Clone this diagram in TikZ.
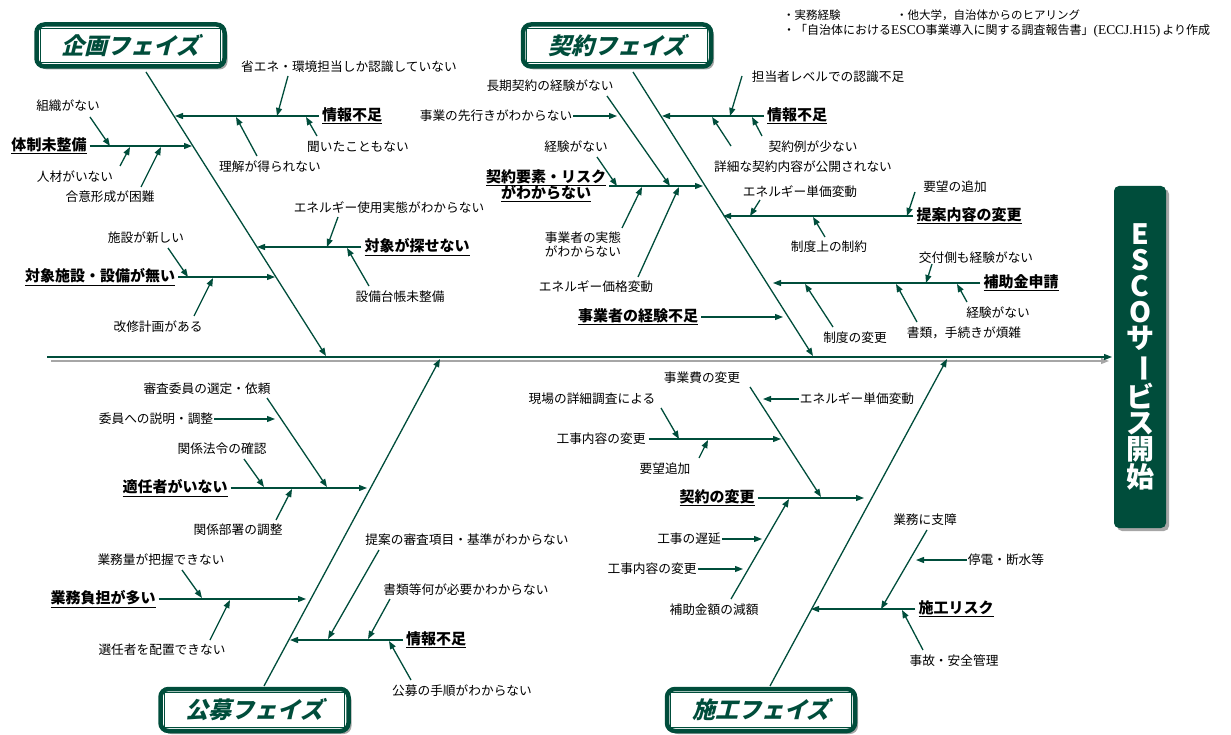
\documentclass[tikz,border=0pt]{standalone}
\usepackage{fontspec}
\usepackage{graphicx}
\setmainfont{Noto Sans CJK JP}
\newfontfamily\serifl{Liberation Serif}[Scale=1.12]
\newfontfamily\phasefont{Noto Sans CJK JP}[FakeSlant=0.25]
\usetikzlibrary{arrows.meta,shadows,calc}
\definecolor{G}{HTML}{004D3B}
\tikzset{
 ln/.style={draw=G,line width=1.3pt},
 arr/.style={ln,-{Triangle[length=8pt,width=6pt]}},
 lab/.style={font=\fontsize{12.7}{14}\selectfont,inner sep=1pt,align=center},
 blab/.style={font=\bfseries\fontsize{15}{17}\selectfont,inner sep=3pt,align=center},
 note/.style={font=\fontsize{12}{13}\selectfont,inner sep=0pt,anchor=west},
 phasebox/.style={draw=G,line width=4.5pt,fill=white,rounded corners=8pt,
   minimum width=188pt,minimum height=42pt,
   drop shadow={shadow xshift=3pt,shadow yshift=-3pt,fill=black!35,opacity=1},
   font=\phasefont\bfseries\fontsize{23}{24}\selectfont,text=G},
 innerframe/.style={draw=G,line width=1.2pt},
 escobox/.style={fill=G,rounded corners=5pt,minimum width=52pt,minimum height=342pt,
   drop shadow={shadow xshift=3pt,shadow yshift=-3pt,fill=black!35,opacity=1},
   text=white,font=\bfseries\fontsize{28}{26}\selectfont,align=center,inner sep=0pt},
}
\begin{document}
\begin{tikzpicture}[x=1pt,y=-1pt]
\useasboundingbox (0,0) rectangle (1231,735);
% ---------- ESCO box ----------
\node[escobox] (esco) at (1140,357) {E\\S\\C\\O\\サ\\\rotatebox[origin=c]{-90}{ー}\\ビ\\ス\\開\\始};
% ---------- spine ----------
\coordinate (sp0) at (47,357);
\coordinate (sp1) at (1112,357);
\coordinate (sg0) at (51,361);
\coordinate (sg1) at (1109,361);
\draw[draw=black!35,line width=1.3pt,-{Triangle[length=8pt,width=6pt]}] (sg0) -- (sg1);
\draw[arr] (sp0) -- (sp1);
% ---------- phase boxes ----------
\node[phasebox] (kikaku) at (130.5,45.5) {企画フェイズ};
\node[phasebox] (keiyaku) at (617,45.5) {契約フェイズ};
\node[phasebox] (koubo) at (254.5,710) {公募フェイズ};
\node[phasebox] (sekou) at (761,710) {施工フェイズ};
\foreach \b in {kikaku,keiyaku,koubo,sekou}{
  \draw[innerframe] ($(\b.south west)+(6,-6)$) rectangle ($(\b.north east)+(-6,6)$);
}
% ---------- notes ----------
\node[note,font=\fontsize{11.5}{13}\selectfont] (n1) at (783,15) {・実務経験};
\node[note,font=\fontsize{11.5}{13}\selectfont] (n2) at (896,15) {・他大学，自治体からのヒアリング};
\node[note] (n3) at (783,31) {・「自治体における{\serifl ESCO}事業導入に関する調査報告書」{\serifl (ECCJ.H15)}\,より作成};
% ---------- bones ----------
\coordinate (kb0) at (146,72);  \coordinate (kb1) at (326,356);
\coordinate (cb0) at (633,72);  \coordinate (cb1) at (813,356);
\coordinate (pb0) at (264,686); \coordinate (pb1) at (440,359);
\coordinate (sb0) at (770,686); \coordinate (sb1) at (947,359);
\draw[arr] (kb0) -- (kb1);
\draw[arr] (cb0) -- (cb1);
\draw[arr] (pb0) -- (pb1);
\draw[arr] (sb0) -- (sb1);

% ================= 企画フェイズ =================
\node[blab] (k1) at (352,116) {\underline{情報不足}};
\coordinate (k1t) at (175,116);
\draw[arr] (k1.west |- k1t) -- (k1t);
\node[lab] (k1s1) at (349,67) {省エネ・環境担当しか認識していない};
\coordinate (k1s1a) at (288,76); \coordinate (k1s1b) at (277,116);
\draw[arr] (k1s1a) -- (k1s1b);
\node[lab] (k1s2) at (358,147) {聞いたこともない};
\coordinate (k1s2a) at (317,136); \coordinate (k1s2b) at (306,117);
\draw[arr] (k1s2a) -- (k1s2b);
\node[lab] (k1s3) at (270,167) {理解が得られない};
\coordinate (k1s3a) at (257,156); \coordinate (k1s3b) at (236,117);
\draw[arr] (k1s3a) -- (k1s3b);

\node[blab] (k2) at (49,146) {\underline{体制未整備}};
\coordinate (k2t) at (192,146);
\draw[arr] (k2.east |- k2t) -- (k2t);
\node[lab] (k2s1) at (68,106) {組織がない};
\coordinate (k2s1a) at (90,117); \coordinate (k2s1b) at (110,146);
\draw[arr] (k2s1a) -- (k2s1b);
\node[lab] (k2s2) at (75,177) {人材がいない};
\coordinate (k2s2a) at (120,166); \coordinate (k2s2b) at (130,147);
\draw[arr] (k2s2a) -- (k2s2b);
\node[lab] (k2s3) at (110,197) {合意形成が困難};
\coordinate (k2s3a) at (141,187); \coordinate (k2s3b) at (161,147);
\draw[arr] (k2s3a) -- (k2s3b);

\node[blab] (k3) at (417,247) {\underline{対象が探せない}};
\coordinate (k3t) at (257,247);
\draw[arr] (k3.west |- k3t) -- (k3t);
\node[lab] (k3s1) at (389,208) {エネルギー使用実態がわからない};
\coordinate (k3s1a) at (338,217); \coordinate (k3s1b) at (327,247);
\draw[arr] (k3s1a) -- (k3s1b);
\node[lab] (k3s2) at (400,297) {設備台帳未整備};
\coordinate (k3s2a) at (369,286); \coordinate (k3s2b) at (347,248);
\draw[arr] (k3s2a) -- (k3s2b);

\node[blab] (k4) at (100,277) {\underline{対象施設・設備が無い}};
\coordinate (k4t) at (275,277);
\draw[arr] (k4.east |- k4t) -- (k4t);
\node[lab] (k4s1) at (146,238) {施設が新しい};
\coordinate (k4s1a) at (168,248); \coordinate (k4s1b) at (188,277);
\draw[arr] (k4s1a) -- (k4s1b);
\node[lab] (k4s2) at (158,327) {改修計画がある};
\coordinate (k4s2a) at (194,316); \coordinate (k4s2b) at (213,278);
\draw[arr] (k4s2a) -- (k4s2b);

% ================= 契約フェイズ =================
\node[blab] (c1) at (797,116) {\underline{情報不足}};
\coordinate (c1t) at (662,116);
\draw[arr] (c1.west |- c1t) -- (c1t);
\node[lab] (c1s1) at (828,77) {担当者レベルでの認識不足};
\coordinate (c1s1a) at (742,76); \coordinate (c1s1b) at (730,116);
\draw[arr] (c1s1a) -- (c1s1b);
\node[lab] (c1s2) at (813,147) {契約例が少ない};
\coordinate (c1s2a) at (762,136); \coordinate (c1s2b) at (752,117);
\draw[arr] (c1s2a) -- (c1s2b);
\node[lab] (c1s3) at (803,167) {詳細な契約内容が公開されない};
\coordinate (c1s3a) at (731,146); \coordinate (c1s3b) at (712,117);
\draw[arr] (c1s3a) -- (c1s3b);

\node[blab] (c2) at (546,186) {\underline{契約要素・リスク}\\[-1pt]\underline{がわからない}};
\coordinate (c2t) at (703,186);
\draw[arr] (c2.east |- c2t) -- (c2t);
\node[lab] (c2s1) at (550,86) {長期契約の経験がない};
\coordinate (c2s1a) at (607,96); \coordinate (c2s1b) at (670,186);
\draw[arr] (c2s1a) -- (c2s1b);
\node[lab] (c2s2) at (496,116) {事業の先行きがわからない};
\coordinate (c2s2b) at (617,116);
\draw[arr] (c2s2.east |- c2s2b) -- (c2s2b);
\node[lab] (c2s3) at (576,147) {経験がない};
\coordinate (c2s3a) at (597,157); \coordinate (c2s3b) at (617,186);
\draw[arr] (c2s3a) -- (c2s3b);
\node[lab] (c2s4) at (583,245) {事業者の実態\\がわからない};
\coordinate (c2s4a) at (622,228); \coordinate (c2s4b) at (642,187);
\draw[arr] (c2s4a) -- (c2s4b);
\node[lab] (c2s5) at (596,287) {エネルギー価格変動};
\coordinate (c2s5a) at (638,277); \coordinate (c2s5b) at (679,187);
\draw[arr] (c2s5a) -- (c2s5b);

\node[blab] (c3) at (638,317) {\underline{事業者の経験不足}};
\coordinate (c3t) at (783,317);
\draw[arr] (c3.east |- c3t) -- (c3t);

\node[blab] (c4) at (969,216) {\underline{提案内容の変更}};
\coordinate (c4t) at (723,216);
\draw[arr] (c4.west |- c4t) -- (c4t);
\node[lab] (c4s1) at (955,187) {要望の追加};
\coordinate (c4s1a) at (915,192); \coordinate (c4s1b) at (907,216);
\draw[arr] (c4s1a) -- (c4s1b);
\node[lab] (c4s2) at (800,192) {エネルギー単価変動};
\coordinate (c4s2a) at (760,200); \coordinate (c4s2b) at (750,216);
\draw[arr] (c4s2a) -- (c4s2b);
\node[lab] (c4s3) at (829,247) {制度上の制約};
\coordinate (c4s3a) at (825,237); \coordinate (c4s3b) at (813,217);
\draw[arr] (c4s3a) -- (c4s3b);

\node[blab] (c5) at (1021,283) {\underline{補助金申請}};
\coordinate (c5t) at (773,283);
\draw[arr] (c5.west |- c5t) -- (c5t);
\node[lab] (c5s1) at (976,258) {交付側も経験がない};
\coordinate (c5s1a) at (932,264); \coordinate (c5s1b) at (926,283);
\draw[arr] (c5s1a) -- (c5s1b);
\node[lab] (c5s2) at (998,313) {経験がない};
\coordinate (c5s2a) at (967,302); \coordinate (c5s2b) at (957,284);
\draw[arr] (c5s2a) -- (c5s2b);
\node[lab] (c5s3) at (964,333) {書類，手続きが煩雑};
\coordinate (c5s3a) at (917,322); \coordinate (c5s3b) at (896,284);
\draw[arr] (c5s3a) -- (c5s3b);
\node[lab] (c5s4) at (855,338) {制度の変更};
\coordinate (c5s4a) at (833,327); \coordinate (c5s4b) at (805,284);
\draw[arr] (c5s4a) -- (c5s4b);

% ================= 公募フェイズ =================
\node[blab] (p1) at (175,488) {\underline{適任者がいない}};
\coordinate (p1t) at (367,488);
\draw[arr] (p1.east |- p1t) -- (p1t);
\node[lab] (p1s1) at (207,389) {審査委員の選定・依頼};
\coordinate (p1s1a) at (267,398); \coordinate (p1s1b) at (327,487);
\draw[arr] (p1s1a) -- (p1s1b);
\node[lab] (p1s2) at (156,419) {委員への説明・調整};
\coordinate (p1s2b) at (275,419);
\draw[arr] (p1s2.east |- p1s2b) -- (p1s2b);
\node[lab] (p1s3) at (222,449) {関係法令の確認};
\coordinate (p1s3a) at (244,459); \coordinate (p1s3b) at (264,487);
\draw[arr] (p1s3a) -- (p1s3b);
\node[lab] (p1s4) at (238,530) {関係部署の調整};
\coordinate (p1s4a) at (276,520); \coordinate (p1s4b) at (292,489);
\draw[arr] (p1s4a) -- (p1s4b);

\node[blab] (p2) at (103,599) {\underline{業務負担が多い}};
\coordinate (p2t) at (306,599);
\draw[arr] (p2.east |- p2t) -- (p2t);
\node[lab] (p2s1) at (161,560) {業務量が把握できない};
\coordinate (p2s1a) at (182,570); \coordinate (p2s1b) at (202,598);
\draw[arr] (p2s1a) -- (p2s1b);
\node[lab] (p2s2) at (162,650) {選任者を配置できない};
\coordinate (p2s2a) at (210,640); \coordinate (p2s2b) at (230,600);
\draw[arr] (p2s2a) -- (p2s2b);

\node[blab] (p3) at (436,640) {\underline{情報不足}};
\coordinate (p3t) at (290,640);
\draw[arr] (p3.west |- p3t) -- (p3t);
\node[lab] (p3s1) at (467,540) {提案の審査項目・基準がわからない};
\coordinate (p3s1a) at (379,550); \coordinate (p3s1b) at (328,639);
\draw[arr] (p3s1a) -- (p3s1b);
\node[lab] (p3s2) at (466,590) {書類等何が必要かわからない};
\coordinate (p3s2a) at (390,599); \coordinate (p3s2b) at (368,639);
\draw[arr] (p3s2a) -- (p3s2b);
\node[lab] (p3s3) at (462,691) {公募の手順がわからない};
\coordinate (p3s3a) at (411,680); \coordinate (p3s3b) at (389,641);
\draw[arr] (p3s3a) -- (p3s3b);

% ================= 施工フェイズ =================
\node[blab] (s1) at (717,498) {\underline{契約の変更}};
\coordinate (s1t) at (864,498);
\draw[arr] (s1.east |- s1t) -- (s1t);
\node[lab] (s1s1) at (702,378) {事業費の変更};
\coordinate (s1s1a) at (750,387); \coordinate (s1s1b) at (821,497);
\draw[arr] (s1s1a) -- (s1s1b);
\node[lab] (s1s2) at (857,399) {エネルギー単価変動};
\coordinate (s1s2b) at (763,399);
\draw[arr] (s1s2.west |- s1s2b) -- (s1s2b);
\node[lab,inner sep=3pt] (s1s3) at (601,439) {工事内容の変更};
\coordinate (s1s3b) at (781,439);
\draw[arr] (s1s3.east |- s1s3b) -- (s1s3b);
\node[lab] (s1s3x) at (592,399) {現場の詳細調査による};
\coordinate (s1s3xa) at (661,408); \coordinate (s1s3xb) at (679,439);
\draw[arr] (s1s3xa) -- (s1s3xb);
\node[lab] (s1s3y) at (665,469) {要望追加};
\coordinate (s1s3ya) at (699,458); \coordinate (s1s3yb) at (708,440);
\draw[arr] (s1s3ya) -- (s1s3yb);
\node[lab] (s1s4) at (714,610) {補助金額の減額};
\coordinate (s1s4a) at (731,599); \coordinate (s1s4b) at (789,499);
\draw[arr] (s1s4a) -- (s1s4b);
\node[lab] (s1s5) at (689,539) {工事の遅延};
\coordinate (s1s5b) at (762,539);
\draw[arr] (s1s5.east |- s1s5b) -- (s1s5b);
\node[lab] (s1s6) at (652,569) {工事内容の変更};
\coordinate (s1s6b) at (743,569);
\draw[arr] (s1s6.east |- s1s6b) -- (s1s6b);

\node[blab] (s2) at (956,609) {\underline{施工リスク}};
\coordinate (s2t) at (811,609);
\draw[arr] (s2.west |- s2t) -- (s2t);
\node[lab] (s2s1) at (925,520) {業務に支障};
\coordinate (s2s1a) at (927,530); \coordinate (s2s1b) at (881,609);
\draw[arr] (s2s1a) -- (s2s1b);
\node[lab] (s2s2) at (1006,560) {停電・断水等};
\coordinate (s2s2b) at (916,560);
\draw[arr] (s2s2.west |- s2s2b) -- (s2s2b);
\node[lab] (s2s3) at (954,661) {事故・安全管理};
\coordinate (s2s3a) at (923,650); \coordinate (s2s3b) at (902,610);
\draw[arr] (s2s3a) -- (s2s3b);
\end{tikzpicture}
\end{document}
